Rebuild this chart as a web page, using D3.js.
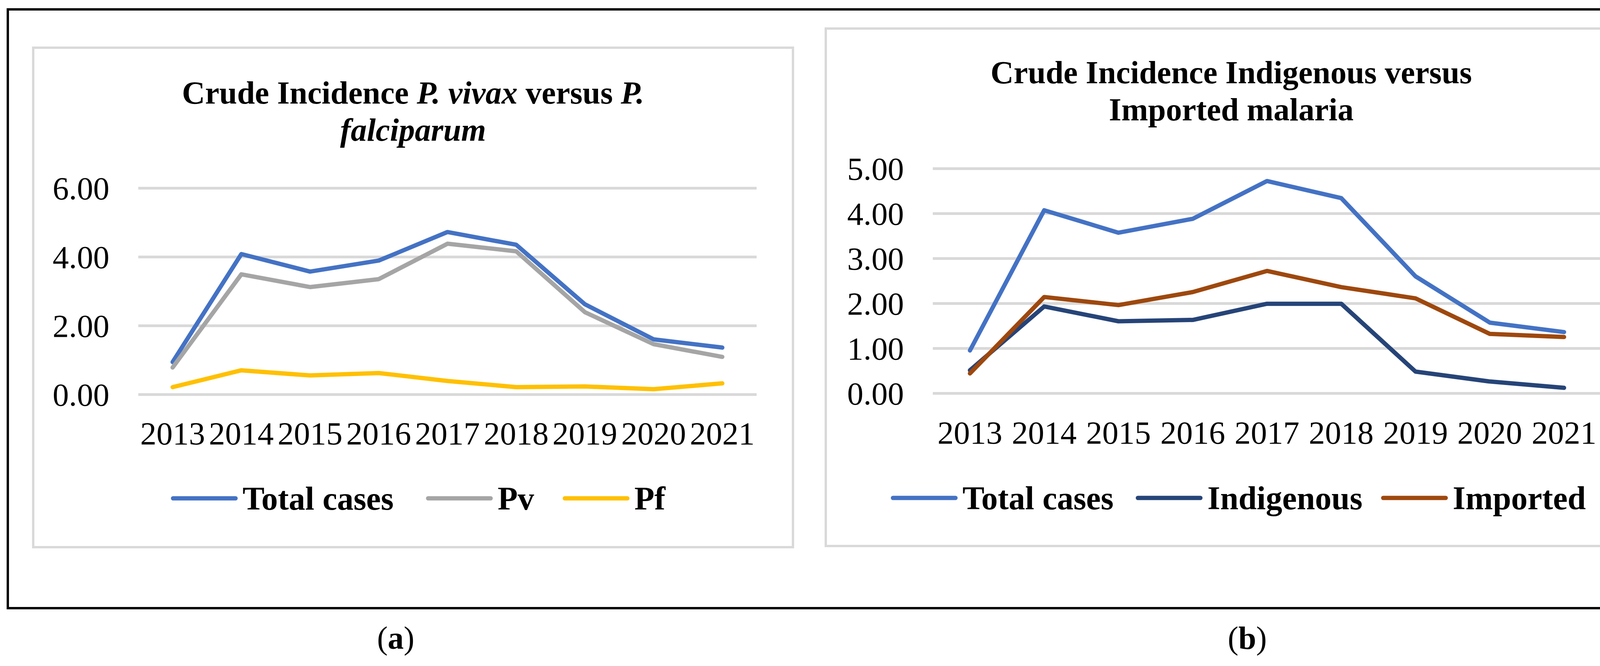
<!DOCTYPE html>
<html lang="en">
<head>
<meta charset="utf-8">
<title>Crude Incidence</title>
<script src="https://cdn.jsdelivr.net/npm/d3@7"></script>
<style>
  body { margin: 0; background: #fff; }
  text { font-family: "Liberation Serif", "Times New Roman", serif; }
</style>
</head>
<body>
<script type="text/javascript">

// data
var years = ["2013", "2014", "2015", "2016", "2017", "2018", "2019", "2020", "2021"];

var totalA = [0.94, 4.08, 3.57, 3.89, 4.72, 4.35, 2.62, 1.60, 1.36];
var pv     = [0.78, 3.49, 3.12, 3.35, 4.38, 4.16, 2.39, 1.46, 1.09];
var pf     = [0.21, 0.70, 0.55, 0.62, 0.39, 0.21, 0.23, 0.15, 0.32];

var totalB     = [0.95, 4.07, 3.57, 3.88, 4.72, 4.34, 2.60, 1.57, 1.36];
var indigenous = [0.51, 1.93, 1.60, 1.63, 1.99, 1.99, 0.48, 0.26, 0.12];
var imported   = [0.44, 2.14, 1.96, 2.25, 2.72, 2.36, 2.11, 1.32, 1.25];

var ticksA = [0, 2, 4, 6];
var ticksB = [0, 1, 2, 3, 4, 5];

var width = 4301;
var height = 1704;

var svg = d3.select("body")
            .append("svg")
            .attr("width", width)
            .attr("height", height);

// outer frame
svg.append("rect")
   .attr("x", 20).attr("y", 24)
   .attr("width", 4253).attr("height", 1532)
   .attr("fill", "none")
   .attr("stroke", "#000")
   .attr("stroke-width", 6);

function drawPanel(p) {
  var g = svg.append("g");

  // chart area border
  g.append("rect")
   .attr("x", p.box[0]).attr("y", p.box[1])
   .attr("width", p.box[2] - p.box[0]).attr("height", p.box[3] - p.box[1])
   .attr("fill", "#fff")
   .attr("stroke", "#d9d9d9")
   .attr("stroke-width", 6);

  var x = d3.scaleBand().domain(years).range([p.plot[0], p.plot[1]]);
  var y = d3.scaleLinear().domain([0, p.max]).range([p.plot[3], p.plot[2]]);

  // title
  var cx = (p.box[0] + p.box[2]) / 2;
  p.title.forEach(function(line, i) {
    var t = g.append("text")
             .attr("x", cx)
             .attr("y", p.titleY + i * 95)
             .attr("text-anchor", "middle")
             .attr("font-size", 82)
             .attr("font-weight", "bold");
    line.forEach(function(part) {
      t.append("tspan").text(part[0]).attr("font-style", part[1] ? "italic" : "normal");
    });
  });

  // gridlines + y labels
  var yAxis = d3.axisLeft(y).tickValues(p.ticks)
                .tickSize(-(p.plot[1] - p.plot[0]))
                .tickPadding(74)
                .tickFormat(d3.format(".2f"));
  var ya = g.append("g")
            .attr("transform", "translate(" + p.plot[0] + ",0)")
            .call(yAxis);
  ya.select(".domain").remove();
  ya.selectAll("line").attr("stroke", "#d9d9d9").attr("stroke-width", 7);
  ya.selectAll("text")
    .attr("font-size", 83)
    .attr("fill", "#000")
    .attr("font-family", "Liberation Serif")
    .attr("dy", "0.34em");

  // x labels
  var xAxis = d3.axisBottom(x).tickSize(0).tickPadding(0);
  var xa = g.append("g")
            .attr("transform", "translate(0," + p.yearY + ")")
            .call(xAxis);
  xa.select(".domain").remove();
  xa.selectAll("text")
    .attr("font-size", 83)
    .attr("fill", "#000")
    .attr("font-family", "Liberation Serif")
    .attr("dy", 0);

  var line = d3.line()
               .x(function(d, i) { return x(years[i]) + x.bandwidth() / 2; })
               .y(function(d) { return y(d); });

  p.series.forEach(function(s) {
    g.append("path")
     .attr("d", line(s.values))
     .attr("fill", "none")
     .attr("stroke", s.color)
     .attr("stroke-width", 11)
     .attr("stroke-linejoin", "round")
     .attr("stroke-linecap", "round");
  });

  // legend
  p.series.forEach(function(s, i) {
    var lx = p.legendX[i];
    g.append("line")
     .attr("x1", lx + 6).attr("x2", lx + 166)
     .attr("y1", p.legendY).attr("y2", p.legendY)
     .attr("stroke", s.color)
     .attr("stroke-width", 11)
     .attr("stroke-linecap", "round");
    g.append("text")
     .attr("x", lx + 184)
     .attr("y", p.legendY)
     .attr("dy", "0.34em")
     .attr("font-size", 84)
     .attr("font-weight", "bold")
     .text(s.name);
  });

  // panel letter
  var lt = svg.append("text")
              .attr("x", p.letterX)
              .attr("y", 1660)
              .attr("text-anchor", "middle")
              .attr("font-size", 82);
  lt.append("tspan").text("(");
  lt.append("tspan").attr("font-weight", "bold").text(p.letter);
  lt.append("tspan").text(")");
}

drawPanel({
  box: [85, 122, 2030, 1400],
  plot: [354, 1937, 481, 1009],
  max: 6,
  ticks: ticksA,
  titleY: 265,
  title: [
    [["Crude Incidence ", false], ["P. vivax", true], [" versus ", false], ["P.", true]],
    [["falciparum", true]]
  ],
  yearY: 1137,
  legendY: 1275,
  legendX: [437, 1090, 1440],
  letter: "a",
  letterX: 1013,
  series: [
    { name: "Total cases", values: totalA, color: "#4472c4" },
    { name: "Pv", values: pv, color: "#a5a5a5" },
    { name: "Pf", values: pf, color: "#ffc000" }
  ]
});

drawPanel({
  box: [2114, 73, 4190, 1397],
  plot: [2388, 4099, 431, 1006],
  max: 5,
  ticks: ticksB,
  titleY: 213,
  title: [
    [["Crude Incidence Indigenous versus", false]],
    [["Imported malaria", false]]
  ],
  yearY: 1135,
  legendY: 1274,
  legendX: [2280, 2907, 3535],
  letter: "b",
  letterX: 3193,
  series: [
    { name: "Total cases", values: totalB, color: "#4472c4" },
    { name: "Indigenous", values: indigenous, color: "#264478" },
    { name: "Imported", values: imported, color: "#9e480e" }
  ]
});

</script>
</body>
</html>
